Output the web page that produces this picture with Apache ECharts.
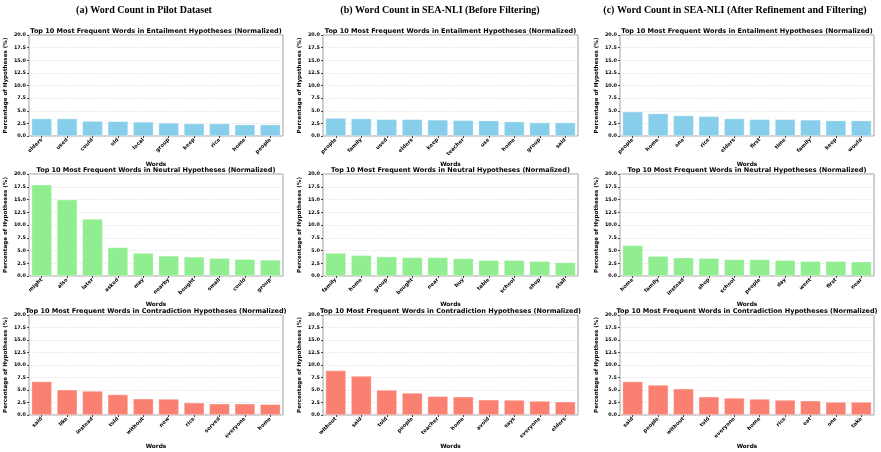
<!DOCTYPE html>
<html>
<head>
<meta charset="utf-8">
<script src="https://cdn.jsdelivr.net/npm/echarts@6/dist/echarts.min.js"></script>
<style>
  html, body { margin: 0; padding: 0; background: #fff; }
  #chart { width: 881px; height: 452px; }
</style>
</head>
<body>
<div id="chart"></div>
<script>
// (a) pilot dataset
var pilotEntWords = ['elders', 'used', 'could', 'old', 'local', 'group', 'keep', 'rice', 'home', 'people'];
var pilotEntVals = [3.45, 3.45, 2.95, 2.9, 2.8, 2.6, 2.45, 2.45, 2.25, 2.25];
var pilotNeuWords = ['might', 'also', 'later', 'asked', 'may', 'nearby', 'bought', 'small', 'could', 'group'];
var pilotNeuVals = [17.9, 14.95, 11.2, 5.6, 4.5, 3.95, 3.75, 3.5, 3.3, 3.15];
var pilotConWords = ['said', 'like', 'instead', 'told', 'without', 'new', 'rice', 'served', 'everyone', 'home'];
var pilotConVals = [6.7, 5.05, 4.8, 4.1, 3.25, 3.2, 2.45, 2.25, 2.25, 2.15];

// (b) SEA-NLI before filtering
var beforeEntWords = ['people', 'family', 'used', 'elders', 'keep', 'teacher', 'use', 'home', 'group', 'said'];
var beforeEntVals = [3.55, 3.45, 3.3, 3.3, 3.2, 3.1, 3.05, 2.85, 2.65, 2.65];
var beforeNeuWords = ['family', 'home', 'group', 'bought', 'near', 'buy', 'table', 'school', 'shop', 'stall'];
var beforeNeuVals = [4.5, 4.05, 3.8, 3.65, 3.65, 3.45, 3.1, 3.1, 2.9, 2.65];
var beforeConWords = ['without', 'said', 'told', 'people', 'teacher', 'home', 'avoid', 'says', 'everyone', 'elders'];
var beforeConVals = [8.9, 7.8, 5.0, 4.4, 3.75, 3.65, 3.05, 3.0, 2.8, 2.65];

// (c) SEA-NLI after refinement and filtering
var afterEntWords = ['people', 'home', 'one', 'rice', 'elders', 'first', 'time', 'family', 'keep', 'would'];
var afterEntVals = [4.8, 4.45, 4.05, 3.9, 3.45, 3.3, 3.3, 3.2, 3.05, 3.05];
var afterNeuWords = ['home', 'family', 'instead', 'shop', 'school', 'people', 'day', 'went', 'first', 'near'];
var afterNeuVals = [6.0, 3.9, 3.6, 3.5, 3.25, 3.25, 3.1, 2.9, 2.9, 2.8];
var afterConWords = ['said', 'people', 'without', 'told', 'everyone', 'home', 'rice', 'eat', 'one', 'take'];
var afterConVals = [6.7, 6.0, 5.25, 3.65, 3.4, 3.2, 3.0, 2.85, 2.6, 2.6];

var mainTitles = [
  '(a) Word Count in Pilot Dataset',
  '(b) Word Count in SEA-NLI (Before Filtering)',
  '(c) Word Count in SEA-NLI (After Refinement and Filtering)'
];
var rowTitles = [
  'Top 10 Most Frequent Words in Entailment Hypotheses (Normalized)',
  'Top 10 Most Frequent Words in Neutral Hypotheses (Normalized)',
  'Top 10 Most Frequent Words in Contradiction Hypotheses (Normalized)'
];
var rowColors = ['#87CEEB', '#90EE90', '#FA8072'];

var panels = [
  [[pilotEntWords, pilotEntVals], [pilotNeuWords, pilotNeuVals], [pilotConWords, pilotConVals]],
  [[beforeEntWords, beforeEntVals], [beforeNeuWords, beforeNeuVals], [beforeConWords, beforeConVals]],
  [[afterEntWords, afterEntVals], [afterNeuWords, afterNeuVals], [afterConWords, afterConVals]]
];

// layout
var colLeft = [29, 323, 620];
var colWidth = [254, 255, 254];
var mainCenter = [144, 440, 735];
var rowTop = [35, 174, 315];
var rowHeight = [101, 102, 100];

var grids = [], xAxes = [], yAxes = [], series = [], graphics = [];

mainTitles.forEach(function (t, c) {
  graphics.push({
    type: 'text', x: mainCenter[c], y: 10,
    style: { text: t, font: 'bold 10px "Liberation Serif", serif', fill: '#000',
             textAlign: 'center', textVerticalAlign: 'middle' }
  });
});

var idx = 0;
for (var c = 0; c < 3; c++) {
  for (var r = 0; r < 3; r++) {
    var words = panels[c][r][0], vals = panels[c][r][1];
    grids.push({
      left: colLeft[c], top: rowTop[r], width: colWidth[c], height: rowHeight[r],
      show: true, borderColor: '#a0a0a0', borderWidth: 1, backgroundColor: '#fff'
    });
    xAxes.push({
      type: 'category', gridIndex: idx, data: words,
      name: 'Words', nameLocation: 'middle', nameGap: r === 2 ? 28 : 25,
      nameTextStyle: { fontFamily: 'DejaVu Sans', fontWeight: 'bold', fontSize: 5.8, color: '#000' },
      axisLine: { show: false },
      axisTick: { show: true, alignWithLabel: true, length: 2, lineStyle: { color: '#444' } },
      axisLabel: { rotate: 45, interval: 0, margin: 3, fontFamily: 'DejaVu Sans', fontWeight: 'bold',
                   fontSize: 5.2, color: '#000' }
    });
    yAxes.push({
      type: 'value', gridIndex: idx, min: 0, max: 20, interval: 2.5,
      name: 'Percentage of Hypotheses (%)', nameLocation: 'middle', nameGap: 20,
      nameTextStyle: { fontFamily: 'DejaVu Sans', fontWeight: 'bold', fontSize: 5.6, color: '#000' },
      axisLine: { show: false },
      axisTick: { show: true, length: 2, lineStyle: { color: '#444' } },
      axisLabel: { margin: 3, fontFamily: 'DejaVu Sans', fontWeight: 'bold', fontSize: 4.9, color: '#000',
                   formatter: function (v) { return v.toFixed(1); } },
      splitLine: { show: true, lineStyle: { color: '#dcdcdc', type: 'dashed', width: 0.6 } }
    });
    series.push({
      type: 'bar', xAxisIndex: idx, yAxisIndex: idx, data: vals,
      barCategoryGap: '20%', silent: true,
      itemStyle: { color: rowColors[r], borderColor: 'rgba(255,255,255,0.5)', borderWidth: 0.6 }
    });
    graphics.push({
      type: 'text', x: colLeft[c] + colWidth[c] / 2, y: rowTop[r] - 4,
      style: { text: rowTitles[r], font: 'bold 6.5px "DejaVu Sans", sans-serif', fill: '#000',
               textAlign: 'center', textVerticalAlign: 'middle' }
    });
    idx++;
  }
}

var chart = echarts.init(document.getElementById('chart'), null, { renderer: 'canvas' });
chart.setOption({
  animation: false,
  backgroundColor: '#fff',
  grid: grids,
  xAxis: xAxes,
  yAxis: yAxes,
  series: series,
  graphic: graphics
});
</script>
</body>
</html>
